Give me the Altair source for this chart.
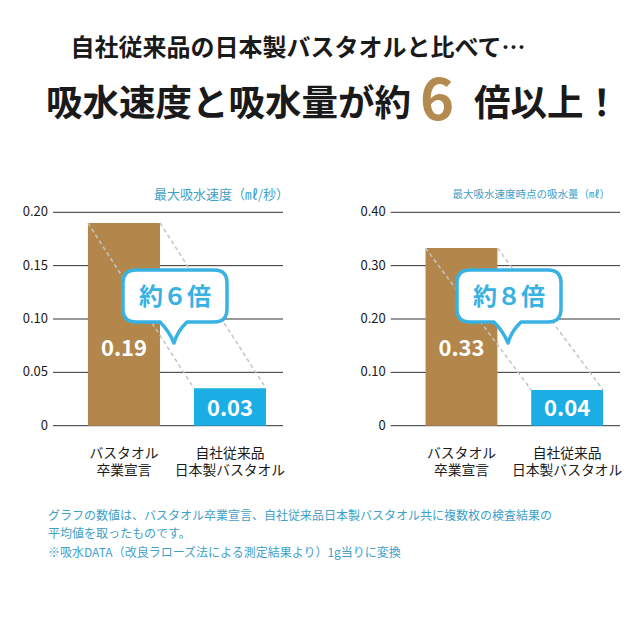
import altair as alt
import pandas as pd

FONT = "Noto Sans CJK JP"
BROWN = "#b3874c"
BLUE = "#1aaee5"
BUBBLE = "#38b2e2"
NOTE = "#3f9fc7"
TXT = "#1a1a1a"
GRID = "#333333"
GOLD = "#b38b50"
DASH = "#c4c4c4"

# ---- data ----
cat_keys = ["A", "B"]
cat_names_line1 = ["バスタオル", "自社従来品"]
cat_names_line2 = ["卒業宣言", "日本製バスタオル"]

speed_values = [0.19, 0.035]
speed_labels = ["0.19", "0.03"]
speed_ticks = [0, 0.05, 0.10, 0.15, 0.20]
speed_tick_labels = ["0", "0.05", "0.10", "0.15", "0.20"]
speed_title = "最大吸水速度（㎖/秒）"
speed_ratio = "約６倍"

amount_values = [0.333, 0.067]
amount_labels = ["0.33", "0.04"]
amount_ticks = [0, 0.10, 0.20, 0.30, 0.40]
amount_tick_labels = ["0", "0.10", "0.20", "0.30", "0.40"]
amount_title = "最大吸水速度時点の吸水量（㎖）"
amount_ratio = "約８倍"

headline1 = "自社従来品の日本製バスタオルと比べて…"
headline2a = "吸水速度と吸水量が約"
headline2b = "6"
headline2c = "倍以上！"
notes = [
    "グラフの数値は、バスタオル卒業宣言、自社従来品日本製バスタオル共に複数枚の検査結果の",
    "平均値を取ったものです。",
    "※吸水DATA（改良ラローズ法による測定結果より）1g当りに変換",
]

BUBBLE_PATH = (
    "M -0.78,-0.52 L 0.78,-0.52 Q 1.04,-0.52 1.04,-0.26 L 1.04,0.26 "
    "Q 1.04,0.52 0.78,0.52 L 0.24,0.52 Q 0.05,0.70 -0.02,0.94 "
    "Q -0.12,0.70 -0.30,0.52 L -0.78,0.52 Q -1.04,0.52 -1.04,0.26 "
    "L -1.04,-0.26 Q -1.04,-0.52 -0.78,-0.52 Z"
)


def text_layer(txt, x, y, size, color=TXT, align="center", weight="normal", baseline="middle"):
    return alt.Chart(pd.DataFrame({"t": [txt]})).mark_text(
        font=FONT, fontSize=size, color=color, align=align,
        fontWeight=weight, baseline=baseline
    ).encode(x=alt.value(x), y=alt.value(y), text="t:N")


def panel(values, labels, ticks, tick_labels, ymax, title, title_size, title_x,
          ratio, x0, x1, bubble_cx):
    df = pd.DataFrame({"cat": cat_keys, "value": values, "label": labels,
                       "n1": cat_names_line1, "n2": cat_names_line2})
    tdf = pd.DataFrame({"v": ticks, "t": tick_labels})
    xs = alt.Scale(type="band", domain=cat_keys, range=[x0, x1],
                   paddingInner=0.32, paddingOuter=0.245, align=0.673)
    ys = alt.Scale(domain=[0, ymax], range=[417.7, 204.3], nice=False)

    grid = alt.Chart(tdf).mark_rule(color=GRID, strokeWidth=1).encode(
        y=alt.Y("v:Q", scale=ys, axis=None), x=alt.value(x0), x2=alt.value(x1))
    tlab = alt.Chart(tdf).mark_text(font=FONT, fontSize=13, color=TXT, align="right",
                                    baseline="middle").encode(
        y=alt.Y("v:Q", scale=ys, axis=None), x=alt.value(x0 - 5), text="t:N")
    bars = alt.Chart(df).mark_bar().encode(
        x=alt.X("cat:N", scale=xs, axis=None),
        y=alt.Y("value:Q", scale=ys, axis=None),
        color=alt.Color("cat:N", scale=alt.Scale(domain=cat_keys, range=[BROWN, BLUE]), legend=None),
    )
    dashes = []
    for bp in (0, 1):
        dashes.append(alt.Chart(df).mark_line(color=DASH, strokeDash=[4, 3], strokeWidth=1.5).encode(
            x=alt.X("cat:N", scale=xs, axis=None, bandPosition=bp),
            y=alt.Y("value:Q", scale=ys, axis=None)))
    vlabels = []
    for k, yy in zip(cat_keys, [341, 401]):
        vlabels.append(alt.Chart(df).transform_filter(alt.datum.cat == k).mark_text(
            font=FONT, fontSize=22, fontWeight="bold", color="white", baseline="middle").encode(
            x=alt.X("cat:N", scale=xs, axis=None), y=alt.value(yy), text="label:N"))
    names = []
    for fld, yy in (("n1", 445.5), ("n2", 463)):
        names.append(alt.Chart(df).mark_text(font=FONT, fontSize=13.8, color=TXT,
                                             baseline="middle").encode(
            x=alt.X("cat:N", scale=xs, axis=None), y=alt.value(yy), text=f"{fld}:N"))
    ttl = text_layer(title, title_x, 187, title_size, color=NOTE, align="right")
    rdf = pd.DataFrame({"ratio": [ratio]})
    bubble = alt.Chart(rdf).mark_point(
        shape=BUBBLE_PATH, size=10000, filled=True, fill="white", stroke=BUBBLE,
        strokeWidth=3.5, opacity=1, fillOpacity=1, strokeOpacity=1, strokeJoin="round"
    ).encode(x=alt.value(bubble_cx), y=alt.value(288))
    btxt = alt.Chart(rdf).mark_text(font=FONT, fontSize=24, fontWeight="bold", color=BUBBLE,
                                    baseline="middle").encode(
        x=alt.value(bubble_cx), y=alt.value(290), text="ratio:N")
    return alt.layer(grid, tlab, bars, *dashes, bubble, btxt, *vlabels, *names, ttl)


left = panel(speed_values, speed_labels, speed_ticks, speed_tick_labels, 0.2,
             speed_title, 13, 281, speed_ratio, 45, 275, 167)
right = panel(amount_values, amount_labels, amount_ticks, amount_tick_labels, 0.4,
              amount_title, 10.5, 602, amount_ratio, 382.7, 612, 501)

head = [
    text_layer(headline1, 290, 40.8, 24, weight="bold"),
    text_layer(headline2a, 403, 97.4, 36.5, weight="bold", align="right"),
    text_layer(headline2b, 429, 95, 58, weight="bold", color=GOLD),
    text_layer(headline2c, 466, 97.4, 36.5, weight="bold", align="left"),
]
foot = [text_layer(n, 40, yy, 12, color=NOTE, align="left")
        for n, yy in zip(notes, [508, 526, 545])]

chart = alt.layer(left, right, *head, *foot).resolve_scale(
    x="independent", y="independent", color="independent"
).properties(
    width=624, height=624, autosize=alt.AutoSizeParams(type="none"), padding=0,
    background="white"
).configure_view(stroke=None)

chart.save("out.html", embed_options={"renderer": "svg", "actions": False})
